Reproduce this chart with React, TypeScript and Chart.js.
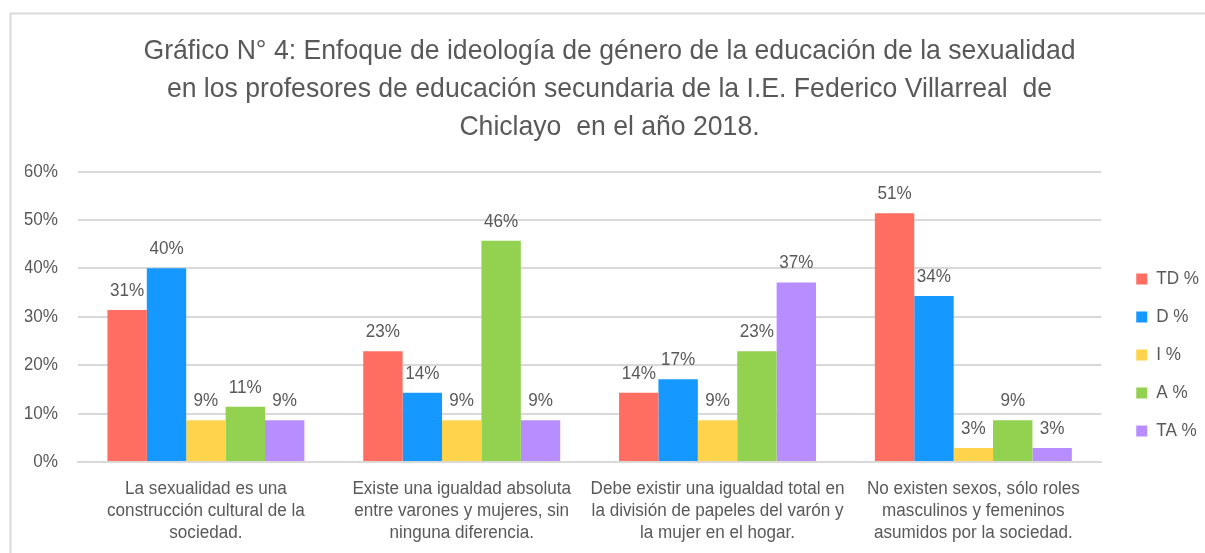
import React, { useEffect, useRef } from "react";
import { Chart, registerables } from "chart.js";

Chart.register(...registerables);

const titleLines = [
  "Gráfico N° 4: Enfoque de ideología de género de la educación de la sexualidad",
  "en los profesores de educación secundaria de la I.E. Federico Villarreal  de",
  "Chiclayo  en el año 2018.",
];

const categories = [
  ["La sexualidad es una", "construcción cultural de la", "sociedad."],
  ["Existe una igualdad absoluta", "entre varones y mujeres, sin", "ninguna diferencia."],
  ["Debe existir una igualdad total en", "la división de papeles del varón y", "la mujer en el hogar."],
  ["No existen sexos, sólo roles", "masculinos y femeninos", "asumidos por la sociedad."],
];

const seriesNames = ["TD %", "D %", "I %", "A %", "TA %"];
const tdValues = [31.4, 22.9, 14.3, 51.4];
const dValues = [40.0, 14.3, 17.1, 34.3];
const iValues = [8.6, 8.6, 8.6, 2.9];
const aValues = [11.4, 45.7, 22.9, 8.6];
const taValues = [8.6, 8.6, 37.1, 2.9];
const seriesColors = ["#FF6E61", "#1598FF", "#FFD34C", "#93D150", "#B88DFF"];

const yTicks = [0, 10, 20, 30, 40, 50, 60];

const FONT = "'Liberation Sans', Arial, sans-serif";
const TEXT = "#595959";
const SX = 0.95; // slight horizontal condensing of text, like the original narrow font

const dataLabelPlugin = {
  id: "dataLabels",
  afterDatasetsDraw(chart: any) {
    const ctx = chart.ctx;
    ctx.save();
    ctx.font = `18px ${FONT}`;
    ctx.fillStyle = TEXT;
    ctx.textAlign = "center";
    ctx.textBaseline = "alphabetic";
    chart.data.datasets.forEach((ds: any, i: number) => {
      const meta = chart.getDatasetMeta(i);
      meta.data.forEach((bar: any, j: number) => {
        ctx.fillText(Math.round(ds.data[j]) + "%", bar.x, bar.y - 14);
      });
    });
    ctx.restore();
  },
};

const framePlugin = {
  id: "frame",
  beforeDraw(chart: any) {
    const ctx = chart.ctx;
    ctx.save();
    ctx.strokeStyle = "#d9d9d9";
    ctx.lineWidth = 2;
    ctx.beginPath();
    ctx.moveTo(10.5, 560);
    ctx.lineTo(10.5, 13.5);
    ctx.lineTo(1210, 13.5);
    ctx.stroke();
    ctx.restore();
  },
};

const legendShiftPlugin = {
  id: "legendShift",
  afterLayout(chart: any) {
    const lg = chart.legend;
    if (!lg) return;
    const dx = 15;
    const dy = 250;
    lg.left += dx;
    lg.right += dx;
    lg.top += dy;
    lg.bottom += dy;
  },
};

export default function App() {
  const ref = useRef<HTMLCanvasElement>(null);
  useEffect(() => {
    const canvas = ref.current!;
    const ctx: any = canvas.getContext("2d");
    const origFill = ctx.fillText.bind(ctx);
    const origMeasure = ctx.measureText.bind(ctx);
    ctx.fillText = (t: string, x: number, y: number) => {
      ctx.save();
      ctx.translate(x, y);
      ctx.scale(SX, 1);
      origFill(t, 0, 0);
      ctx.restore();
    };
    ctx.measureText = (t: string) => {
      const m = origMeasure(t);
      return {
        width: m.width * SX,
        actualBoundingBoxAscent: m.actualBoundingBoxAscent,
        actualBoundingBoxDescent: m.actualBoundingBoxDescent,
        actualBoundingBoxLeft: m.actualBoundingBoxLeft * SX,
        actualBoundingBoxRight: m.actualBoundingBoxRight * SX,
      };
    };

    const values = [tdValues, dValues, iValues, aValues, taValues];
    const chart = new Chart(canvas, {
      type: "bar",
      data: {
        labels: categories,
        datasets: seriesNames.map((name, i) => ({
          label: name,
          data: values[i],
          backgroundColor: seriesColors[i],
          borderWidth: 0,
          categoryPercentage: 0.77,
          barPercentage: 1.0,
        })),
      },
      options: {
        animation: false,
        responsive: false,
        devicePixelRatio: 1,
        layout: { padding: { left: 25, right: 11, top: 0, bottom: 0 } },
        plugins: {
          title: {
            display: true,
            text: titleLines,
            color: TEXT,
            font: { family: FONT, size: 28, weight: "normal", lineHeight: 1.34 },
            padding: { top: 33, bottom: 26 },
          },
          legend: {
            position: "right",
            align: "start",
            labels: {
              color: TEXT,
              font: { family: FONT, size: 18 },
              boxWidth: 11,
              boxHeight: 11,
              padding: 20,
            },
          },
          tooltip: { enabled: false },
        },
        scales: {
          x: {
            grid: { display: false, drawTicks: false },
            border: { display: true, color: "#d9d9d9", width: 2 },
            ticks: {
              color: TEXT,
              font: { family: FONT, size: 18, lineHeight: 1.22 },
              maxRotation: 0,
              autoSkip: false,
              padding: 16,
            },
            afterFit: (axis: any) => {
              axis.paddingLeft = 0;
              axis.paddingRight = 0;
              axis.height = 91;
            },
          },
          y: {
            min: 0,
            max: 60,
            afterBuildTicks: (axis: any) => {
              axis.ticks = yTicks.map((v) => ({ value: v }));
            },
            grid: { color: "#d9d9d9", lineWidth: 2, drawTicks: false },
            border: { display: false },
            ticks: {
              color: TEXT,
              font: { family: FONT, size: 18 },
              padding: 20,
              callback: (v: any) => v + "%",
            },
            afterFit: (axis: any) => {
              axis.width = 53;
            },
          },
        },
      },
      plugins: [framePlugin, legendShiftPlugin, dataLabelPlugin],
    });
    return () => chart.destroy();
  }, []);
  return (
    <div style={{ position: "fixed", left: 0, top: 0, width: 1205, height: 553, background: "#fff" }}>
      <canvas ref={ref} width={1205} height={553} style={{ display: "block" }} />
    </div>
  );
}
